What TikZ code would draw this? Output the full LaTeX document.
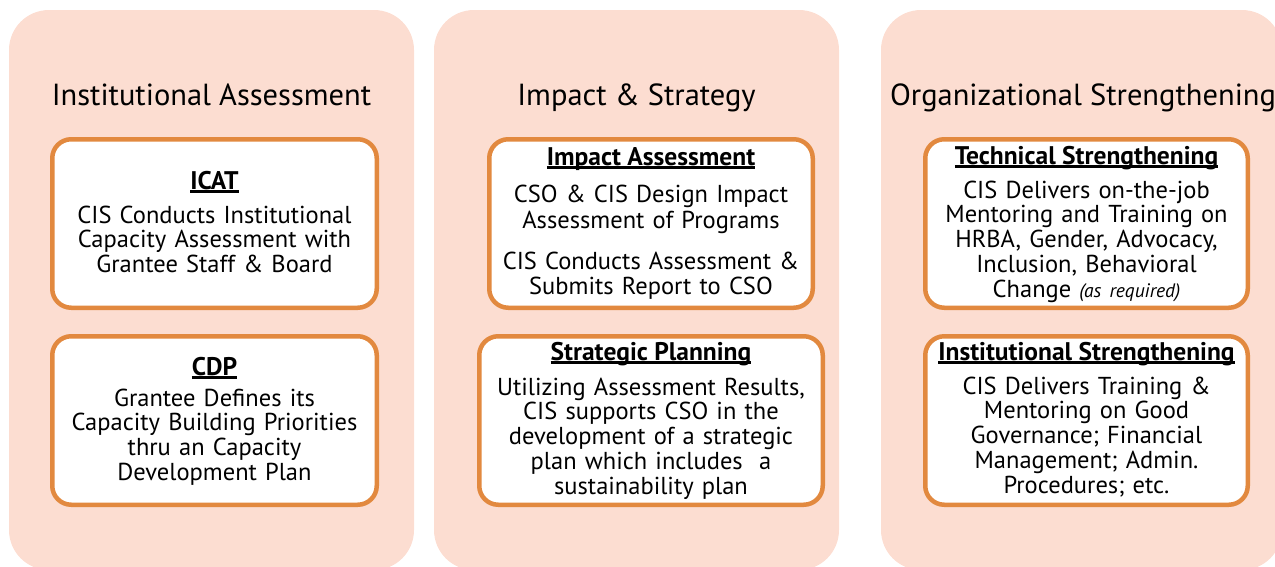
\documentclass[tikz,border=0pt]{standalone}
\usepackage{fontspec}
\setmainfont{PT Sans}
\definecolor{panelfill}{HTML}{FCDDD1}
\definecolor{boxline}{HTML}{E2893F}
% heading text with a heavy underline
\newcommand\hdline[1]{\setbox0\hbox{#1}\rlap{\rule[-3.5pt]{\wd0}{2.4pt}}\box0}
\begin{document}
\begin{tikzpicture}[x=1pt,y=-1pt,
  panel/.style={fill=panelfill, draw=none, rounded corners=40pt, inner sep=0pt, minimum height=560pt},
  card/.style={draw=boxline, fill=white, line width=4.5pt, rounded corners=19pt, inner sep=0pt, minimum height=168.5pt},
  title/.style={font=\fontsize{30.5}{36}\selectfont, anchor=base},
  head/.style={font=\bfseries\fontsize{25.5}{28}\selectfont, anchor=base},
  body/.style={font=\fontsize{24.5}{24.8}\selectfont, anchor=base, text width=340pt, align=center, inner sep=0pt}]
\useasboundingbox (0,0) rectangle (1275,566);
\begin{scope}
\clip (0,0) rectangle (1275,566);
\node[panel, minimum width=405pt] (pA) at (211.5,290) {};
\node[panel, minimum width=405pt] (pB) at (636.5,290) {};
\node[panel, minimum width=401pt] (pC) at (1081.5,290) {};
\end{scope}

% column titles
\node[title] (tA) at (211.5,105) {Institutional Assessment};
\node[title] (tB) at (636.5,105) {Impact \& Strategy};
\node[title] (tC) at (1083,105) {Organizational Strengthening};

% cards
\node[card, minimum width=324.5pt] (icat) at (214.5,223.5) {};
\node[card, minimum width=324.5pt] (cdp)  at (214.5,420.5) {};
\node[card, minimum width=323.5pt] (impact) at (651,223.5) {};
\node[card, minimum width=343.5pt] (plan)   at (651,420.5) {};
\node[card, minimum width=322.5pt] (tech) at (1086.5,223.5) {};
\node[card, minimum width=322.5pt] (inst) at (1086.5,420.5) {};

% card texts
\node[head] (icatH) at (214.5,189) {\hdline{ICAT}};
\node[body] (icatB) at (214.5,223) {CIS Conducts Institutional\\Capacity Assessment with\\Grantee Staff \& Board};

\node[head] (cdpH) at (214.5,375) {\hdline{CDP}};
\node[body] (cdpB) at (214.5,406) {Grantee Defines its\\Capacity Building Priorities\\thru an Capacity\\Development Plan};

\node[head] (impactH) at (651,165) {\hdline{Impact Assessment}};
\node[body] (impactB) at (651,202) {CSO \& CIS Design Impact\\[2pt]Assessment of Programs\\[16pt]CIS Conducts Assessment \&\\Submits Report to CSO};

\node[head] (planH) at (651,360) {\hdline{Strategic Planning}};
\node[body] (planB) at (651,395) {Utilizing Assessment Results,\\CIS supports CSO in the\\development of a strategic\\plan which includes\ \ a\\sustainability plan};

\node[head] (techH) at (1086.5,164) {\hdline{Technical Strengthening}};
\node[body] (techB) at (1086.5,198) {CIS Delivers on-the-job\\Mentoring and Training on\\HRBA, Gender, Advocacy,\\Inclusion, Behavioral\\Change {\itshape\fontsize{19.5}{20}\selectfont (as required)}};

\node[head] (instH) at (1086.5,360) {\hdline{Institutional Strengthening}};
\node[body] (instB) at (1086.5,394) {CIS Delivers Training \&\\Mentoring on Good\\Governance; Financial\\Management; Admin.\\Procedures; etc.};
\end{tikzpicture}
\end{document}
